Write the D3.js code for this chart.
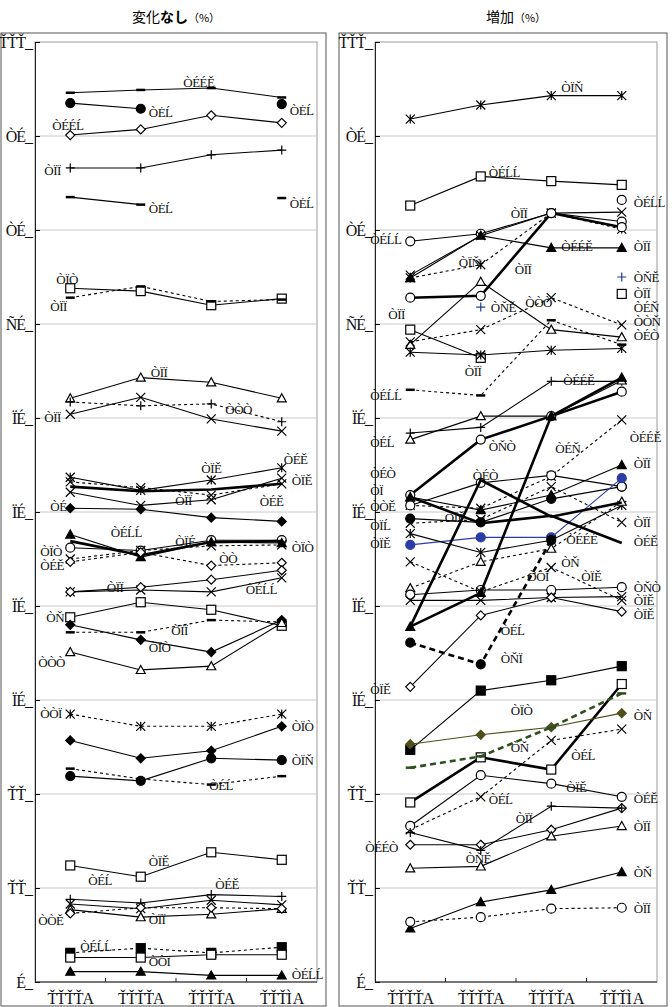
<!DOCTYPE html>
<html>
<head>
<meta charset="utf-8">
<script src="https://cdn.jsdelivr.net/npm/d3@7"></script>
<style>
  body { margin: 0; background: #fff; }
  .lbl { font-family: "Liberation Serif", serif; font-size: 13px; letter-spacing: -0.5px; }
  .tick { font-family: "Liberation Serif", serif; font-size: 16px; letter-spacing: -1px; }
  .title { font-family: "Noto Sans CJK JP", sans-serif; font-size: 14px; }
</style>
</head>
<body>
<script>
// ---- data ----
const years = ["ŤŤŤŤA", "ŤŤŤŤA", "ŤŤŤŤA", "ŤŤŤÌ A"];
const yTicks = [0, 10, 20, 30, 40, 50, 60, 70, 80, 90, 100];
const yTickLabels = ["É_", "ŤŤ_", "ŤŤ_", "ÏÉ_", "ÏÉ_", "ÏÉ_", "ÏÉ_", "ÑÉ_", "ÒÉ_", "ÒÉ_", "ŤŤŤ_"];

// 変化なし
const noChangeValues = [
  [94.6, 94.9, 95.1, 94.1], [93.5, 92.9, null, 93.4], [90.1, 90.7, 92.2, 91.4], [86.6, 86.6, 88.0, 88.5],
  [83.5, 82.7, null, 83.4], [73.8, 73.5, 72.0, 72.7], [72.8, 74.0, 72.4, 72.6], [62.1, 64.3, 63.8, 62.1],
  [61.7, 61.3, 61.5, 59.6], [60.4, 62.2, 59.9, 58.6], [53.7, 52.3, 53.4, 54.7], [52.7, 52.2, 52.4, 53.0],
  [53.2, 52.6, 51.8, 53.0], [52.1, 50.7, 51.3, 53.6], [50.4, 50.3, 49.4, 49.0], [46.2, 45.9, 47.0, 47.0],
  [46.9, 45.4, 46.8, 46.9], [47.6, 45.2, 46.8, 46.7], [45.0, 45.9, 46.4, 46.5], [44.7, 45.7, 44.3, 44.6],
  [41.5, 41.7, 41.5, 43.0], [41.5, 42.0, 42.8, 43.8], [38.8, 40.4, 39.6, 37.9], [37.2, 37.2, 38.5, 38.3],
  [38.0, 36.4, 35.1, 38.5], [35.1, 33.2, 33.6, 38.2], [28.5, 27.2, 27.2, 28.5], [25.7, 23.8, 24.6, 27.2],
  [21.9, 21.4, 23.8, 23.6], [22.7, 21.6, 21.0, 21.9], [12.4, 11.2, 13.8, 13.0], [8.8, 8.4, 9.3, 9.1],
  [8.3, 7.8, 8.7, 8.2], [7.7, 6.9, 7.2, 7.8], [7.3, 7.9, 7.9, 7.8], [3.1, 3.6, 3.1, 3.7],
  [2.6, 2.6, 2.9, 2.9], [1.1, 1.1, 0.7, 0.7]
];
// marker, line (s solid / d dashed / b bold / bd bold dashed), colour
const noChangeStyles = [
  "dash,s", "circle,s", "odiamond,s", "plus,s", "dash,s", "osquare,s", "dash,d", "otriangle,s",
  "plus,d", "x,s", "star,s", "none,b", "x,d", "x,s", "diamond,s", "ocircle,s",
  "none,b", "triangle,s", "x,d", "odiamond,d", "x,s", "odiamond,s", "osquare,s", "dash,d",
  "diamond,s", "otriangle,s", "star,d", "diamond,s", "circle,s", "dash,d", "osquare,s", "plus,s",
  "x,s", "otriangle,s", "odiamond,d", "square,d", "osquare,s", "triangle,s"
];
const noChangeLabels = [
  [2, 95.7, "ÒÉÉĚ", -28], [1, 92.6, "ÒĖĹ", 8], [3, 92.8, "ÒĖĹ", 8], [0, 91.2, "ÒÉÉĹ", -18],
  [0, 86.4, "ÒÏÏ", -26], [1, 82.3, "ÒĖĹ", 8], [3, 82.9, "ÒĖĹ", 8], [0, 74.8, "ÒÏÒ", -14],
  [0, 71.9, "ÒÏÏ", -20], [1, 64.9, "ÒÏÏ", 10], [2, 61.0, "ÒÒÒ", 14], [0, 60.1, "ÒÏÏ", -26],
  [2, 54.7, "ÒÏĚ", -10], [3, 55.6, "ÒÉĚ", 2], [3, 53.4, "ÒÏĚ", 10], [2, 51.3, "ÒÏÏ", -36],
  [3, 51.2, "ÒÉĚ", -22], [0, 50.6, "ÒÉ", -20], [1, 47.9, "ÒÉĹĹ", -30], [2, 46.9, "ÒÏÉ", -36],
  [2, 45.1, "ÒÒ", 8], [3, 46.3, "ÒÏÒ", 10], [0, 45.8, "ÒÏÒ", -30], [0, 44.4, "ÒÉĚ", -30],
  [1, 42.0, "ÒÏÏ", -34], [3, 41.8, "ÒÉĹĹ", -36], [0, 38.8, "ÒŇ", -24], [2, 37.5, "ÒÏÏ", -40],
  [1, 35.6, "ÒÏÒ", 8], [0, 34.0, "ÒÒÒ", -32], [0, 28.6, "ÒÒÏ", -30], [3, 27.2, "ÒÏÒ", 10],
  [3, 23.6, "ÒÏŇ", 10], [2, 21.0, "ÒÉĹ", -2], [1, 12.9, "ÒÏĚ", 8], [0, 10.9, "ÒÉĹ", 18],
  [2, 10.4, "ÒÉĚ", 4], [1, 6.7, "ÒÏÏ", 8], [0, 6.6, "ÒÒĚ", -32], [0, 3.8, "ÒÉĹĹ", 10],
  [1, 2.2, "ÒÒÏ", 8], [3, 0.8, "ÒÉĹĹ", 10]
];

// 増加
const increaseValues = [
  [91.8, 93.3, 94.3, 94.3], [82.6, 85.7, 85.2, 84.8], [null, null, null, 83.2], [78.8, 79.6, 81.8, 80.9],
  [75.2, 79.4, 81.8, 81.9], [74.9, 79.4, 78.1, 78.1], [74.9, 76.3, 81.8, 80.1], [72.8, 73.0, 81.8, 80.3],
  [null, 71.8, null, 75.0], [69.4, 66.4, null, 73.2], [67.8, 74.5, 69.4, 68.6], [68.1, 69.4, 72.8, 69.9],
  [67.0, 66.7, 67.2, 67.4], [63.0, 62.4, 70.4, 67.8], [58.4, 59.0, 63.9, 63.9], [57.7, 60.2, 60.2, 64.0],
  [51.8, 57.7, 60.2, 62.8], [50.7, 50.4, 53.8, 59.8], [51.6, 50.2, 51.8, 55.0], [49.3, 48.9, 51.4, 52.7],
  [50.7, 53.1, 53.9, 52.7], [46.5, 47.3, 47.3, 53.6], [51.6, 48.8, 49.6, 46.7], [48.8, 49.2, 52.7, 48.9],
  [47.7, 45.7, 47.0, 50.7], [41.9, 44.7, 46.1, 51.1], [41.2, 41.7, 41.7, 42.0], [40.6, 40.6, 40.9, 41.0],
  [44.7, 41.5, 44.1, 40.6], [37.8, 41.4, 60.2, 64.3], [37.8, 53.4, 49.5, 51.0], [36.1, 33.8, 47.0, null],
  [31.4, 39.0, 40.9, 39.4], [24.7, 31.0, 32.1, 33.6], [19.1, 23.9, 22.6, 31.7], [25.3, 26.3, 27.1, 28.6],
  [22.8, 24.0, 27.1, 30.7], [16.2, 19.7, 25.7, 26.9], [16.6, 22.0, 21.1, 19.7], [14.6, 14.6, 16.2, 18.5],
  [15.9, 14.0, 18.7, 18.5], [12.1, 12.3, 15.5, 16.6], [5.7, 8.5, 9.8, 11.7], [6.4, 6.9, 7.8, 7.9]
];
const increaseStyles = [
  "star,s", "osquare,s", "ocircle,s", "ocircle,s", "x,s", "triangle,s", "star,d", "ocircle,b",
  "plus,s,#1f3c8f", "osquare,s", "otriangle,s", "x,d", "star,s", "dash,d", "plus,s", "otriangle,s",
  "ocircle,b", "x,d", "triangle,s", "circle,s", "ocircle,s", "circle,s,#2a3ca8", "none,b", "x,d",
  "star,s", "otriangle,d", "ocircle,s", "x,s", "x,d", "triangle,b", "none,b", "circle,bd",
  "odiamond,s", "square,s", "osquare,b", "diamond,s,#4f4f1c", "dash,bd,#2f4f1f", "x,d", "ocircle,s", "odiamond,s",
  "plus,s", "otriangle,s", "triangle,s", "ocircle,d"
];
const increaseLabels = [
  [2, 95.2, "ÒÏŇ", 10], [1, 86.2, "ÒÉĹĹ", 8], [3, 83.0, "ÒÉĹĹ", 12], [1, 81.8, "ÒÏÏ", 30],
  [0, 79.0, "ÒÉĹĹ", -40], [2, 78.3, "ÒÉÉĚ", 10], [3, 78.3, "ÒÏÏ", 12], [1, 76.6, "ÒÏŇ", -22],
  [1, 75.8, "ÒÏÏ", 34], [3, 75.0, "ÒŇĚ", 12], [3, 73.3, "ÒÏÏ", 12], [3, 71.8, "ÒÉŇ", 12],
  [3, 70.3, "ÒÒŇ", 12], [3, 68.8, "ÒÉÒ", 12], [0, 71.1, "ÒÏÏ", -22], [1, 71.8, "ÒŇĚ", 10],
  [2, 72.3, "ÒÒÒ", -26], [1, 65.0, "ÒÏÏ", -16], [0, 62.4, "ÒÉĹĹ", -40], [2, 64.0, "ÒÉÉĚ", 12],
  [0, 57.4, "ÒÉĹ", -40], [1, 57.0, "ÒŇÒ", 8], [2, 56.8, "ÒÉŇ", 4], [3, 58.0, "ÒÉÉĚ", 8],
  [0, 54.2, "ÒÉÒ", -40], [1, 53.9, "ÒÉÒ", -8], [3, 55.2, "ÒÏÏ", 12], [0, 52.3, "ÒÏ", -40],
  [0, 50.6, "ÒÒĚ", -40], [1, 49.5, "ÒÏĚ", -36], [0, 48.6, "ÒÏĹ", -40], [0, 46.7, "ÒÏĚ", -40],
  [2, 47.1, "ÒÉÉÉ", 15], [3, 48.9, "ÒÏÏ", 12], [3, 46.9, "ÒÉĚ", 12], [2, 43.2, "ÒÒÏ", -24],
  [2, 43.2, "ÒÏĚ", 30], [2, 44.7, "ÒŇ", 10], [3, 42.0, "ÒŇÒ", 12], [3, 40.6, "ÒÏĚ", 12],
  [3, 39.1, "ÒÏĚ", 12], [1, 37.4, "ÒÉĹ", 20], [0, 31.2, "ÒÏĚ", -40], [1, 34.5, "ÒŇÏ", 20],
  [1, 28.9, "ÒÏÒ", 30], [1, 25.0, "ÒŇ", 30], [2, 24.2, "ÒÉĹ", 20], [3, 28.4, "ÒŇ", 12],
  [1, 19.5, "ÒÉĹ", 8], [2, 20.7, "ÒÏĚ", 15], [3, 19.6, "ÒÉĚ", 12], [0, 14.4, "ÒÉÉÒ", -45],
  [1, 17.5, "ÒÏÏ", 35], [1, 13.2, "ÒŇĚ", -15], [3, 16.6, "ÒÏÏ", 12], [3, 11.7, "ÒŇ", 12],
  [3, 7.9, "ÒÏÏ", 12]
];

// ---- layout ----
const W = 672, H = 1007;
const TOP = 42, BOTTOM = 982;

const svg = d3.select("body").append("svg")
  .attr("width", W).attr("height", H);

const y = d3.scaleLinear().domain([0, 100]).range([BOTTOM, TOP]);

function marker(g, type, cx, cy, color) {
  const s = 4.5;
  if (type === "none") return;
  if (type === "circle" || type === "ocircle") {
    g.append("circle").attr("cx", cx).attr("cy", cy).attr("r", s)
      .attr("fill", type === "circle" ? color : "#fff").attr("stroke", color).attr("stroke-width", 1.2);
  } else if (type === "square" || type === "osquare") {
    g.append("rect").attr("x", cx - s).attr("y", cy - s).attr("width", 2 * s).attr("height", 2 * s)
      .attr("fill", type === "square" ? color : "#fff").attr("stroke", color).attr("stroke-width", 1.2);
  } else if (type === "diamond" || type === "odiamond") {
    g.append("path").attr("d", `M${cx},${cy - s}L${cx + s},${cy}L${cx},${cy + s}L${cx - s},${cy}Z`)
      .attr("fill", type === "diamond" ? color : "#fff").attr("stroke", color).attr("stroke-width", 1.2);
  } else if (type === "triangle" || type === "otriangle") {
    g.append("path").attr("d", `M${cx},${cy - s}L${cx + s},${cy + s * 0.8}L${cx - s},${cy + s * 0.8}Z`)
      .attr("fill", type === "triangle" ? color : "#fff").attr("stroke", color).attr("stroke-width", 1.2);
  } else if (type === "plus") {
    g.append("path").attr("d", `M${cx - s},${cy}H${cx + s}M${cx},${cy - s}V${cy + s}`)
      .attr("stroke", color).attr("stroke-width", 1.2);
  } else if (type === "x") {
    g.append("path").attr("d", `M${cx - s},${cy - s}L${cx + s},${cy + s}M${cx - s},${cy + s}L${cx + s},${cy - s}`)
      .attr("stroke", color).attr("stroke-width", 1.2);
  } else if (type === "star") {
    g.append("path").attr("d", `M${cx - s},${cy - s}L${cx + s},${cy + s}M${cx - s},${cy + s}L${cx + s},${cy - s}M${cx},${cy - s}V${cy + s}`)
      .attr("stroke", color).attr("stroke-width", 1.2);
  } else if (type === "dash") {
    g.append("path").attr("d", `M${cx - s},${cy}H${cx + s}`)
      .attr("stroke", color).attr("stroke-width", 2.5);
  }
}

function drawPanel(opt) {
  const x = d3.scaleBand().domain(d3.range(years.length)).range([opt.x0, opt.x1]);
  const cx = i => x(i) + x.bandwidth() / 2;

  // outer frame
  svg.append("rect").attr("x", opt.fx0).attr("y", 33).attr("width", opt.fx1 - opt.fx0).attr("height", 973)
    .attr("fill", "none").attr("stroke", "#555").attr("stroke-width", 1);

  // title
  const t = svg.append("text").attr("class", "title").attr("x", (opt.x0 + opt.x1) / 2).attr("y", 22)
    .attr("text-anchor", "middle");
  opt.title.forEach(p => t.append("tspan").attr("font-weight", p[1] ? "bold" : "normal")
    .attr("font-size", p[2] || 14).text(p[0]));

  // plot box + grid
  svg.append("rect").attr("x", opt.x0).attr("y", TOP).attr("width", opt.x1 - opt.x0).attr("height", BOTTOM - TOP)
    .attr("fill", "none").attr("stroke", "#999");
  svg.append("g").selectAll("line").data(yTicks.slice(1, -1)).join("line")
    .attr("x1", opt.x0).attr("x2", opt.x1).attr("y1", d => y(d)).attr("y2", d => y(d))
    .attr("stroke", "#c8c8c8").attr("stroke-width", 1);

  // axes
  svg.append("g").attr("transform", `translate(${opt.x0},0)`)
    .call(d3.axisLeft(y).tickValues(yTicks).tickSize(-5).tickFormat((d, i) => yTickLabels[i]))
    .call(g => g.select(".domain").attr("stroke", "#222"))
    .call(g => g.selectAll("text").attr("class", "tick").attr("font-family", null).attr("font-size", null)
      .attr("x", -3).attr("fill", "#111"));

  svg.append("line").attr("x1", opt.x0).attr("x2", opt.x1).attr("y1", BOTTOM).attr("y2", BOTTOM).attr("stroke", "#222");
  svg.append("g").selectAll("line").data(d3.range(1, years.length)).join("line")
    .attr("x1", i => x(i)).attr("x2", i => x(i)).attr("y1", BOTTOM).attr("y2", BOTTOM - 4).attr("stroke", "#222");
  svg.append("g").selectAll("text").data(years).join("text")
    .attr("class", "tick").attr("x", (d, i) => cx(i)).attr("y", 1004).attr("text-anchor", "middle")
    .attr("fill", "#111").text(d => d);

  // series
  const g = svg.append("g");
  opt.values.forEach((vals, k) => {
    const [m, ls, col] = opt.styles[k].split(",");
    const color = col || "#000";
    const line = d3.line().defined(d => d != null).x((d, i) => cx(i)).y(d => y(d));
    g.append("path").attr("d", line(vals)).attr("fill", "none").attr("stroke", color)
      .attr("stroke-width", ls.startsWith("b") ? 2.6 : 1.1)
      .attr("stroke-dasharray", ls === "d" ? "3,3" : ls === "bd" ? "6,4" : null);
    vals.forEach((v, i) => { if (v != null) marker(g, m, cx(i), y(v), color); });
  });

  // value labels
  svg.append("g").selectAll("text").data(opt.labels).join("text")
    .attr("class", "lbl").attr("x", d => cx(d[0]) + d[3]).attr("y", d => y(d[1]) + 5)
    .attr("fill", "#111").text(d => d[2]);
}

drawPanel({
  x0: 35, x1: 317, fx0: 1, fx1: 326,
  title: [["変化", false], ["なし", true], ["（%）", false, 11]],
  values: noChangeValues, styles: noChangeStyles, labels: noChangeLabels
});
drawPanel({
  x0: 375, x1: 657, fx0: 339, fx1: 667,
  title: [["増加", false], ["（%）", false, 11]],
  values: increaseValues, styles: increaseStyles, labels: increaseLabels
});
</script>
</body>
</html>
